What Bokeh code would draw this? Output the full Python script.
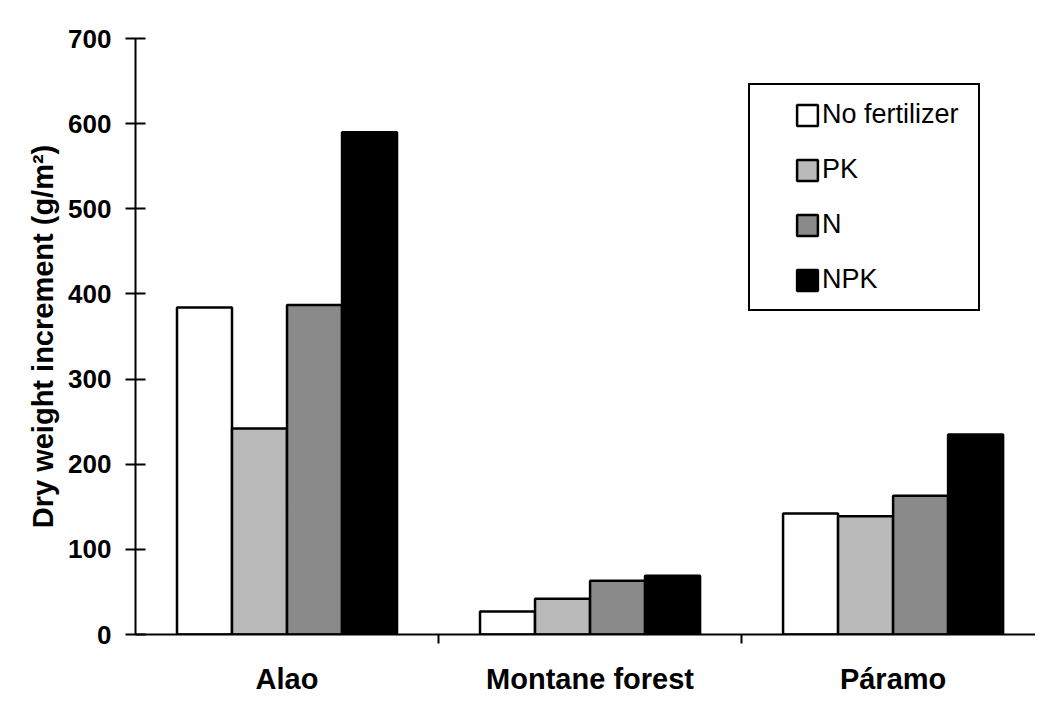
from bokeh.plotting import figure
from bokeh.models import (ColumnDataSource, Range1d, FixedTicker, Legend, LegendItem)
from bokeh.embed import file_html
from bokeh.resources import INLINE
import numpy as np

# ---- data ----
categories = ["Alao", "Montane forest", "Páramo"]
series_names = ["No fertilizer", "PK", "N", "NPK"]
no_fertilizer = [384, 27, 142]
pk = [242, 42, 139]
n = [387, 63, 163]
npk = [590, 69, 235]
y_ticks = [0, 100, 200, 300, 400, 500, 600, 700]

series_values = [no_fertilizer, pk, n, npk]
colors = ["#ffffff", "#bababa", "#8a8a8a", "#000000"]
offsets = [-0.2723, -0.0908, 0.0908, 0.2723]
bar_w = 0.1815

FONT = "Liberation Sans"

p = figure(width=1035, height=701, output_backend="svg", toolbar_location=None,
           x_range=Range1d(-0.5, 2.47), y_range=Range1d(0, 700),
           min_border_left=135, min_border_right=0, min_border_top=38,
           min_border_bottom=67)
p.outline_line_color = None
p.xgrid.grid_line_color = None
p.ygrid.grid_line_color = None
p.background_fill_color = "white"
p.border_fill_color = "white"

idx = np.arange(len(categories))
bar_renderers = []
sources = []
for name, vals, col, off in zip(series_names, series_values, colors, offsets):
    src = ColumnDataSource(dict(x=idx + off, top=vals))
    sources.append(src)
    r = p.vbar(x="x", top="top", width=bar_w, bottom=0, source=src,
               fill_color=col, line_color="black", line_width=2.5)
    bar_renderers.append(r)

# invisible renderer used only to give the legend frame an item
ghost = p.scatter(x="x", y="top", source=sources[0], size=0,
                  fill_alpha=0, line_alpha=0)

# legend frame (box only)
frame_legend = Legend(items=[LegendItem(label=" ", renderers=[ghost])],
                      location=(613, 323))
frame_legend.padding = 0
frame_legend.margin = 0
frame_legend.spacing = 0
frame_legend.glyph_width = 20
frame_legend.glyph_height = 20
frame_legend.label_standoff = 0
frame_legend.label_width = 208
frame_legend.label_height = 224
frame_legend.label_text_alpha = 0
frame_legend.border_line_color = "black"
frame_legend.border_line_alpha = 1
frame_legend.border_line_width = 2
frame_legend.background_fill_color = "white"
frame_legend.background_fill_alpha = 1
p.add_layout(frame_legend)

# legend content
legend = Legend(items=[LegendItem(label=nm, renderers=[r])
                       for nm, r in zip(series_names, bar_renderers)],
                location=(659, 339))
legend.padding = 0
legend.margin = 0
legend.spacing = 24
legend.glyph_width = 26
legend.glyph_height = 26
legend.label_height = 30
legend.label_standoff = 2
legend.label_text_font = FONT
legend.label_text_font_size = "27px"
legend.label_text_color = "black"
legend.border_line_color = None
legend.background_fill_alpha = 0
p.add_layout(legend)

# y axis
ya = p.yaxis[0]
ya.ticker = FixedTicker(ticks=y_ticks)
ya.minor_tick_line_color = None
ya.major_tick_in = 10
ya.major_tick_out = 10
ya.major_tick_line_width = 2
ya.major_tick_line_color = "black"
ya.axis_line_width = 2
ya.axis_line_color = "black"
ya.major_label_text_font = FONT
ya.major_label_text_font_style = "bold"
ya.major_label_text_font_size = "26px"
ya.major_label_text_color = "black"
ya.major_label_standoff = 14
ya.axis_label = "Dry weight increment (g/m²)"
ya.axis_label_text_font = FONT
ya.axis_label_text_font_style = "bold"
ya.axis_label_text_font_size = "29px"
ya.axis_label_text_color = "black"
ya.axis_label_standoff = 6

# x axis
xa = p.xaxis[0]
xa.ticker = FixedTicker(ticks=list(idx), minor_ticks=[0.5, 1.5, 2.5])
xa.major_label_overrides = {int(i): c for i, c in zip(idx, categories)}
xa.major_tick_line_color = None
xa.major_tick_in = 0
xa.major_tick_out = 0
xa.minor_tick_in = 0
xa.minor_tick_out = 9
xa.minor_tick_line_width = 2
xa.minor_tick_line_color = "black"
xa.axis_line_width = 2
xa.axis_line_color = "black"
xa.major_label_text_font = FONT
xa.major_label_text_font_style = "bold"
xa.major_label_text_font_size = "29px"
xa.major_label_text_color = "black"
xa.major_label_standoff = 19

open("out.html", "w").write(file_html(p, INLINE))
